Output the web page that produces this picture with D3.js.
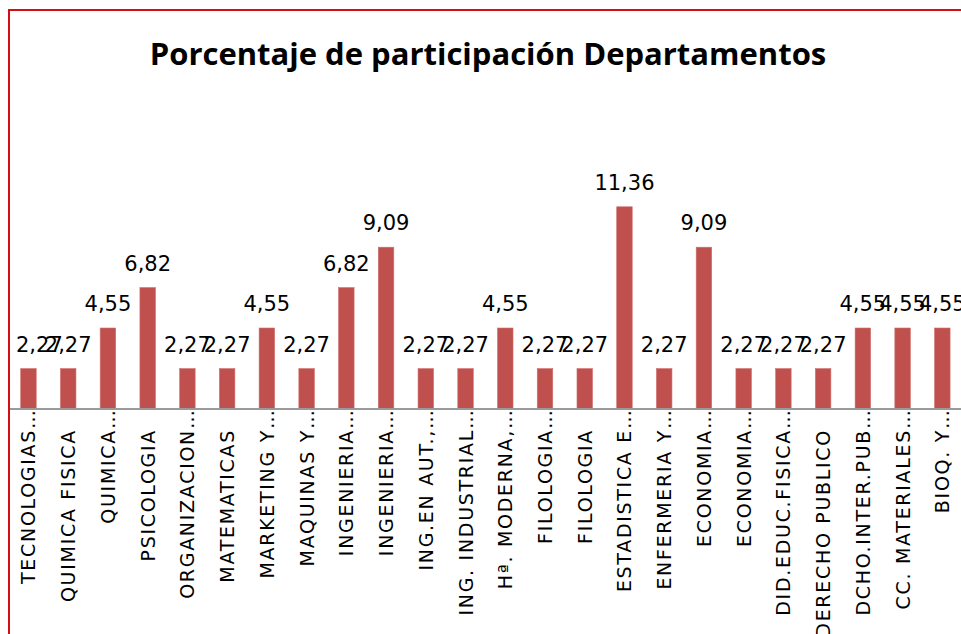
<!DOCTYPE html>
<html>
<head>
<meta charset="utf-8">
<script src="https://cdn.jsdelivr.net/npm/d3@7"></script>
<style>
  html, body { margin: 0; padding: 0; background: #ffffff; overflow: hidden; }
  svg { display: block; }
</style>
</head>
<body>
<svg id="chart" width="961" height="634"></svg>
<script>
// ---- data ----
const titleText = "Porcentaje de participación Departamentos";
const categories = [
  "TECNOLOGIAS…", "QUIMICA FISICA", "QUIMICA…", "PSICOLOGIA", "ORGANIZACION…",
  "MATEMATICAS", "MARKETING Y…", "MAQUINAS Y…", "INGENIERIA…", "INGENIERIA…",
  "ING.EN AUT.,…", "ING. INDUSTRIAL…", "Hª. MODERNA,…", "FILOLOGIA…", "FILOLOGIA",
  "ESTADISTICA E…", "ENFERMERIA Y…", "ECONOMIA…", "ECONOMIA…", "DID.EDUC.FISICA…",
  "DERECHO PUBLICO", "DCHO.INTER.PUB…", "CC. MATERIALES…", "BIOQ. Y…"
];
const values = [
  2.27, 2.27, 4.55, 6.82, 2.27,
  2.27, 4.55, 2.27, 6.82, 9.09,
  2.27, 2.27, 4.55, 2.27, 2.27,
  11.36, 2.27, 9.09, 2.27, 2.27,
  2.27, 4.55, 4.55, 4.55
];
const yDomain = [0, 12];

// ---- layout ----
const W = 961, H = 634;
const svg = d3.select("#chart");
svg.append("rect").attr("x", 0).attr("y", 0).attr("width", W).attr("height", H).attr("fill", "#ffffff");

// chart border (extends past the window on the right and bottom)
svg.append("rect")
  .attr("x", 9).attr("y", 10)
  .attr("width", 980).attr("height", 700)
  .attr("fill", "none")
  .attr("stroke", "#d40f14")
  .attr("stroke-width", 2);

const plotLeft = 8.6, plotRight = 962.2, axisY = 409;
const x = d3.scaleBand()
  .domain(d3.range(categories.length))
  .range([plotLeft, plotRight])
  .paddingInner(0.61)
  .paddingOuter(0.305);
const y = d3.scaleLinear().domain(yDomain).range([axisY, axisY - 12 * 17.8]);

// title
svg.append("text")
  .attr("x", 488).attr("y", 65)
  .attr("text-anchor", "middle")
  .style("font-family", "'Open Sans', sans-serif")
  .style("font-weight", 700)
  .style("font-size", "31px")
  .attr("fill", "#000")
  .text(titleText);

// bars
svg.append("g").selectAll("rect")
  .data(values)
  .join("rect")
  .attr("x", (d, i) => x(i))
  .attr("width", x.bandwidth())
  .attr("y", d => y(d))
  .attr("height", d => y(0) - y(d))
  .attr("fill", "#c0504d")
  .attr("stroke", "#cf6d6a")
  .attr("stroke-width", 0.6);

// value labels (kept inside the chart's left edge, as the original does)
const fmt = v => d3.format(".2f")(v).replace(".", ",");
const minLabelX = 16;
svg.append("g").selectAll("text")
  .data(values)
  .join("text")
  .attr("x", (d, i) => x(i) + x.bandwidth() / 2)
  .attr("y", d => y(d) - 17)
  .attr("text-anchor", "middle")
  .style("font-family", "'DejaVu Sans', sans-serif")
  .style("font-size", "21px")
  .attr("fill", "#000")
  .text(d => fmt(d))
  .each(function () {
    const b = this.getBBox();
    if (b.x < minLabelX) {
      d3.select(this).attr("x", +this.getAttribute("x") + (minLabelX - b.x));
    }
  });

// x axis line
svg.append("line")
  .attr("x1", 10).attr("x2", W)
  .attr("y1", axisY).attr("y2", axisY)
  .attr("stroke", "#9a9a9a")
  .attr("stroke-width", 2);

// category labels (rotated), base text ends at a fixed line, ellipsis extends beyond
const labelEnd = 429;
const lg = svg.append("g");
categories.forEach((c, i) => {
  const cx = x(i) + x.bandwidth() / 2;
  const hasEll = c.endsWith("…");
  const base = hasEll ? c.slice(0, -1) : c;
  const t = lg.append("text")
    .attr("transform", `translate(${cx + 7},${labelEnd}) rotate(-90)`)
    .attr("text-anchor", "start")
    .style("font-family", "'DejaVu Sans', sans-serif")
    .style("font-size", "19px")
    .style("letter-spacing", "1.7px")
    .attr("fill", "#000")
    .text(c);
  const node = t.node();
  const baseLen = node.getSubStringLength(0, base.length);
  t.attr("x", -baseLen);
});
</script>
</body>
</html>
